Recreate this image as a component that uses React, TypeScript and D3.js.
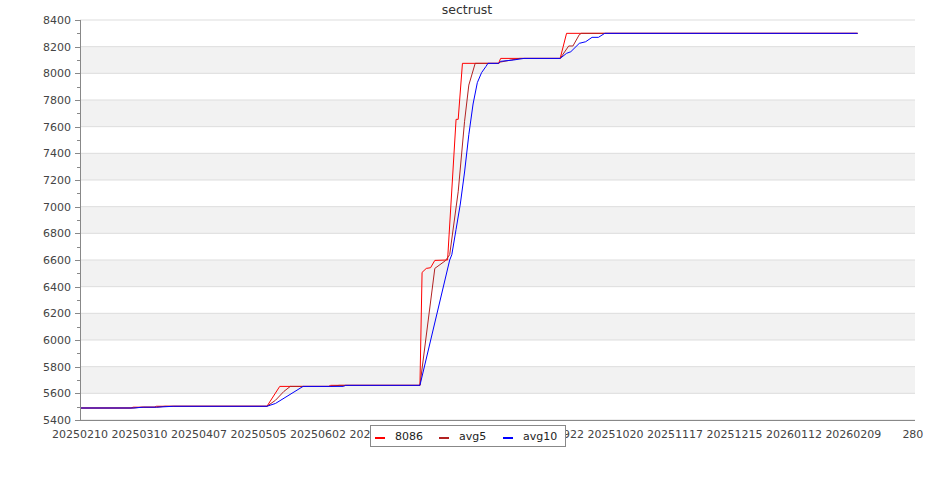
import React from 'react'
import * as d3 from 'd3'

// series values, [yyyymmdd, value]
const raw8086: [string, number][] = [
  ['20250210', 5490], ['20250306', 5490], ['20250307', 5496], ['20250317', 5496],
  ['20250318', 5503], ['20250509', 5503], ['20250515', 5652], ['20250607', 5652],
  ['20250608', 5660], ['20250720', 5660], ['20250721', 6507], ['20250723', 6537],
  ['20250725', 6542], ['20250727', 6597], ['20250802', 6600], ['20250806', 7655],
  ['20250807', 7655], ['20250809', 8075], ['20250826', 8075], ['20250827', 8112],
  ['20250924', 8112], ['20250927', 8300], ['20260211', 8300]
]

const avg5: [string, number][] = [
  ['20250210', 5490], ['20250307', 5490], ['20250311', 5496], ['20250318', 5496],
  ['20250322', 5503], ['20250509', 5503], ['20250513', 5548], ['20250517', 5615],
  ['20250520', 5652], ['20250608', 5652], ['20250612', 5660], ['20250720', 5660],
  ['20250727', 6537], ['20250801', 6595], ['20250803', 6640], ['20250807', 7112],
  ['20250810', 7640], ['20250812', 7912], ['20250815', 8075], ['20250826', 8075],
  ['20250827', 8085], ['20250901', 8100], ['20250905', 8112], ['20250924', 8112],
  ['20250928', 8205], ['20250930', 8205], ['20251003', 8290], ['20251004', 8300],
  ['20260211', 8300]
]

const avg10: [string, number][] = [
  ['20250210', 5490], ['20250307', 5490], ['20250312', 5496], ['20250318', 5496],
  ['20250326', 5503], ['20250509', 5503], ['20250513', 5524], ['20250526', 5652],
  ['20250614', 5652], ['20250615', 5660], ['20250720', 5660], ['20250803', 6600],
  ['20250804', 6640], ['20250806', 6830], ['20250808', 7020], ['20250810', 7260],
  ['20250812', 7540], ['20250814', 7770], ['20250816', 7930], ['20250818', 8005],
  ['20250820', 8050], ['20250821', 8075], ['20250826', 8075], ['20250827', 8090],
  ['20250902', 8100], ['20250907', 8112], ['20250924', 8112], ['20250927', 8150],
  ['20250929', 8162], ['20251003', 8225], ['20251006', 8237], ['20251009', 8270],
  ['20251012', 8270], ['20251015', 8300], ['20260211', 8300]
]

// tick dates; labels partly covered by the legend only show their visible part
const xTicks = [
  '20250210', '20250310', '20250407', '20250505', '20250602', '20250630',
  '20250922', '20251020', '20251117', '20251215', '20260112', '20260209', '20260309'
]
const xTickLabels = [
  '20250210', '20250310', '20250407', '20250505', '20250602', '202',
  '922', '20251020', '20251117', '20251215', '20260112', '20260209', '280'
]
const yTicks = [5400, 5600, 5800, 6000, 6200, 6400, 6600, 6800, 7000, 7200, 7400, 7600, 7800, 8000, 8200, 8400]
const yMinorTicks = [5500, 5700, 5900, 6100, 6300, 6500, 6700, 6900, 7100, 7300, 7500, 7700, 7900, 8100, 8300]

const seriesNames = ['8086', 'avg5', 'avg10']
const seriesColors = ['#ff0000', '#b22222', '#0000ff']

const width = 935
const height = 500
const margin = { top: 20, right: 20, bottom: 80, left: 80 }
const font = '"DejaVu Sans", Verdana, sans-serif'
const labelHalf = 28 // half width of an 8 digit label at 11px

const parse = d3.utcParse('%Y%m%d')

export default function App() {
  const x = d3.scaleUtc()
    .domain([parse('20250210')!, parse('20260310')!])
    .range([margin.left, width - margin.right])
  const y = d3.scaleLinear()
    .domain([5400, 8400])
    .range([height - margin.bottom, margin.top])

  const line = d3.line<[string, number]>()
    .x(d => x(parse(d[0])!))
    .y(d => y(d[1]))

  const series = [raw8086, avg5, avg10]
  const plotLeft = margin.left
  const plotRight = width - margin.right
  const plotBottom = height - margin.bottom

  // alternating bands, grey on 5600-5800, 6000-6200, ...
  const bands = yTicks.slice(0, -1).map((t, i) => ({ lo: t, hi: yTicks[i + 1], grey: i % 2 === 1 }))

  const legendX = 370
  const legendY = 425
  const legendItems = [
    { lx: 375, tx: 395 },
    { lx: 439, tx: 459 },
    { lx: 503, tx: 523 }
  ]

  const labelPos = (i: number) => {
    const cx = x(parse(xTicks[i])!)
    const lab = xTickLabels[i]
    if (lab === '202') return { x: cx - labelHalf, anchor: 'start' }
    if (lab === '922') return { x: cx + labelHalf, anchor: 'end' }
    return { x: cx, anchor: 'middle' }
  }

  return (
    <svg width={width} height={height}
      style={{ position: 'absolute', left: 0, top: 0, background: '#fff' }}
      fontFamily={font}>
      <text x={467} y={14} textAnchor="middle" fontSize={12.5} fill="#333">sectrust</text>

      {bands.map((b, i) => (
        <rect key={i} x={plotLeft} y={y(b.hi)} width={plotRight - plotLeft}
          height={y(b.lo) - y(b.hi)} fill={b.grey ? '#f2f2f2' : '#fff'} />
      ))}
      {yTicks.map(t => (
        <line key={t} x1={plotLeft} x2={plotRight} y1={y(t)} y2={y(t)} stroke="#dddddd" />
      ))}

      {series.map((s, i) => (
        <path key={i} d={line(s) || ''} fill="none" stroke={seriesColors[i]} strokeWidth={1} />
      ))}

      {/* y axis */}
      <line x1={plotLeft + 0.5} x2={plotLeft + 0.5} y1={margin.top} y2={plotBottom} stroke="#888" />
      {yTicks.map(t => (
        <g key={t}>
          <line x1={plotLeft - 5} x2={plotLeft} y1={Math.round(y(t)) + 0.5} y2={Math.round(y(t)) + 0.5} stroke="#888" />
          <text x={plotLeft - 9} y={y(t) + 4} textAnchor="end" fontSize={11} fill="#444">{t}</text>
        </g>
      ))}
      {yMinorTicks.map(t => (
        <line key={t} x1={plotLeft - 3} x2={plotLeft} y1={Math.round(y(t)) + 0.5} y2={Math.round(y(t)) + 0.5} stroke="#888" />
      ))}

      {/* x axis */}
      <line x1={plotLeft} x2={plotRight} y1={plotBottom + 0.5} y2={plotBottom + 0.5} stroke="#888" />
      {xTicks.map((t, i) => {
        const p = labelPos(i)
        return (
          <text key={t} x={p.x} y={plotBottom + 18} textAnchor={p.anchor} fontSize={11} fill="#444">
            {xTickLabels[i]}
          </text>
        )
      })}

      {/* legend */}
      <rect x={legendX + 0.5} y={legendY + 0.5} width={195} height={21} fill="#fff" stroke="#888" />
      {seriesNames.map((n, i) => (
        <g key={n}>
          <line x1={legendItems[i].lx} x2={legendItems[i].lx + 10} y1={438} y2={438}
            stroke={seriesColors[i]} strokeWidth={2} />
          <text x={legendItems[i].tx} y={440} fontSize={11} fill="#222">{n}</text>
        </g>
      ))}
    </svg>
  )
}
